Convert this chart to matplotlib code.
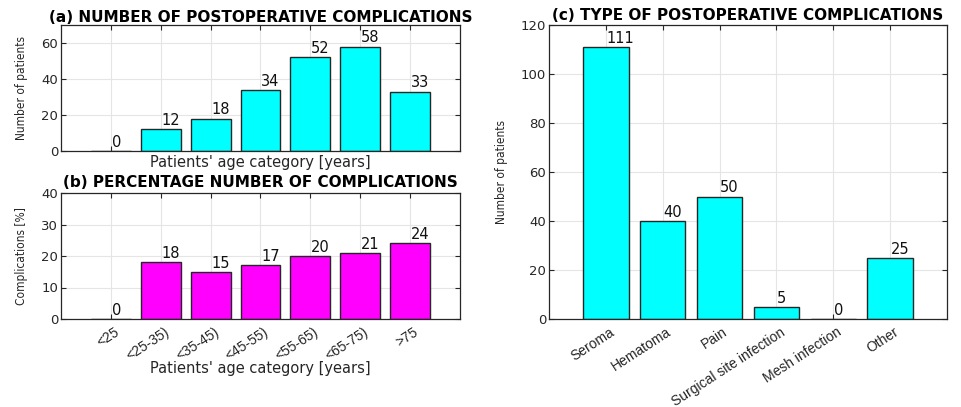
import numpy as np
import matplotlib.pyplot as plt
from matplotlib.transforms import ScaledTranslation

# age groups and counts
age_groups = ['<25', '<25-35)', '<35-45)', '<45-55)', '<55-65)', '<65-75)', '>75']
n_complications = [0, 12, 18, 34, 52, 58, 33]
pct_complications = [0, 18, 15, 17, 20, 21, 24]

# complication types
comp_types = ['Seroma', 'Hematoma', 'Pain', 'Surgical site infection',
              'Mesh infection', 'Other']
comp_counts = [111, 40, 50, 5, 0, 25]

plt.rcParams['font.family'] = ['DejaVu Sans']
plt.rcParams['font.size'] = 10

W, H = 962, 407
fig = plt.figure(figsize=(W / 100, H / 100), dpi=100)

DARK = '#262626'
ROT = ['Liberation Sans', 'DejaVu Sans']
YLAB = dict(family=['DejaVu Sans'], fontstretch='condensed', fontsize=8.6,
            color=DARK)


def box(l, t, r, b):
    return [l / W, 1 - b / H, (r - l) / W, (b - t) / H]


def style_axes(ax):
    ax.set_axisbelow(True)
    ax.grid(True, color='#e5e5e5', linewidth=0.8)
    ax.tick_params(direction='in', top=True, right=True, length=3.5,
                   width=0.8, colors=DARK, labelcolor=DARK, labelsize=9.5)
    ax.tick_params(axis='y', pad=2)
    for s in ax.spines.values():
        s.set_color(DARK)
        s.set_linewidth(0.9)


def bar_labels(ax, x, vals):
    for xi, v in zip(x, vals):
        ax.annotate(str(v), (xi, v), xytext=(0.5, 3), textcoords='offset points',
                    ha='left', va='baseline', fontsize=10.5, color='#111111')


def rotated_labels(ax, labels):
    # must run after tick_params, which resets label transforms
    ax.set_xticklabels(labels, rotation=33, ha='right', va='center',
                       rotation_mode='anchor', family=ROT, fontsize=10)
    shift = ScaledTranslation(7 / 100, -7 / 100, fig.dpi_scale_trans)
    for lab in ax.get_xticklabels():
        lab.set_transform(lab.get_transform() + shift)


x7 = np.arange(1, len(age_groups) + 1)

# (a) number of complications per age group
ax1 = fig.add_axes(box(61, 25, 460, 151))
style_axes(ax1)
ax1.bar(x7, n_complications, width=0.8, color='cyan', edgecolor=DARK,
        linewidth=1)
bar_labels(ax1, x7, n_complications)
ax1.set_xlim(0, 8)
ax1.set_ylim(0, 70)
ax1.set_xticks(x7)
ax1.set_xticklabels([])
ax1.set_yticks([0, 20, 40, 60])
ax1.set_ylabel('Number of patients', **YLAB)
ax1.yaxis.set_label_coords(-0.083, 0.5)
ax1.set_xlabel("Patients' age category [years]", fontsize=10.5, color=DARK)
ax1.xaxis.set_label_coords(0.5, -0.035)
ax1.set_title('(a) NUMBER OF POSTOPERATIVE COMPLICATIONS', fontsize=11,
              fontweight='bold', pad=2.5)

# (b) percentage of complications per age group
ax2 = fig.add_axes(box(61, 193, 460, 319))
style_axes(ax2)
ax2.bar(x7, pct_complications, width=0.8, color='magenta', edgecolor=DARK,
        linewidth=1)
bar_labels(ax2, x7, pct_complications)
ax2.set_xlim(0, 8)
ax2.set_ylim(0, 40)
ax2.set_xticks(x7)
rotated_labels(ax2, age_groups)
ax2.set_yticks([0, 10, 20, 30, 40])
ax2.set_ylabel('Complications [%]', **YLAB)
ax2.yaxis.set_label_coords(-0.083, 0.5)
ax2.set_xlabel("Patients' age category [years]", fontsize=10.5, color=DARK)
ax2.xaxis.set_label_coords(0.5, -0.335)
ax2.set_title('(b) PERCENTAGE NUMBER OF COMPLICATIONS', fontsize=11,
              fontweight='bold', pad=4)

# (c) complication types
x6 = np.arange(1, len(comp_types) + 1)
ax3 = fig.add_axes(box(549, 25, 947, 319))
style_axes(ax3)
ax3.bar(x6, comp_counts, width=0.8, color='cyan', edgecolor=DARK,
        linewidth=1)
bar_labels(ax3, x6, comp_counts)
ax3.set_xlim(0, 7)
ax3.set_ylim(0, 120)
ax3.set_xticks(x6)
rotated_labels(ax3, comp_types)
ax3.set_yticks(np.arange(0, 121, 20))
ax3.set_ylabel('Number of patients', **YLAB)
ax3.yaxis.set_label_coords(-0.103, 0.5)
ax3.set_title('(c) TYPE OF POSTOPERATIVE COMPLICATIONS', fontsize=11,
              fontweight='bold', pad=3.5)

fig.savefig('out.png', dpi=100)
